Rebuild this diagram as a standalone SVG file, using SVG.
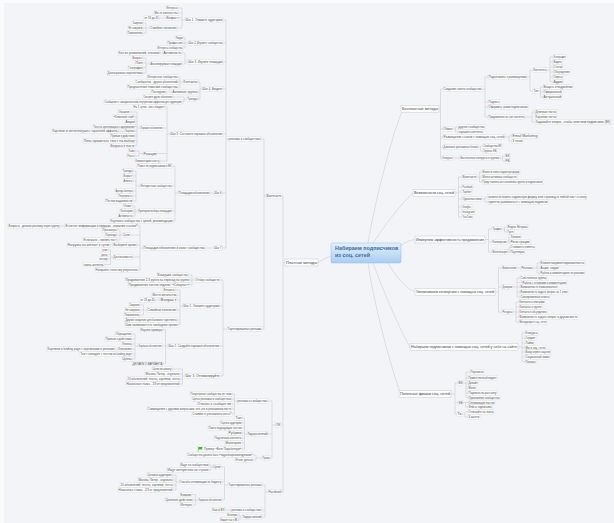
<svg xmlns="http://www.w3.org/2000/svg" width="614" height="523" viewBox="0 0 614 523">
<defs>
<linearGradient id="cg" x1="0" y1="0" x2="0" y2="1"><stop offset="0" stop-color="#e4f0fc"/><stop offset="1" stop-color="#a9cdf2"/></linearGradient>
<style>
.n rect{fill:#fcfcfd;stroke:#d4d7de;stroke-width:.35}
.n text{font-family:"Liberation Sans",Arial,sans-serif;font-size:3px;fill:#505050}
.m rect{fill:#fdfdfe;stroke:#bfc4cd;stroke-width:.45}
.m text{font-family:"Liberation Sans",Arial,sans-serif;font-size:3.8px;fill:#444}
#connectors path{fill:none;stroke:#c3c7cf;stroke-width:.5}
</style>
</defs>
<rect x="0" y="0" width="614" height="523" fill="#fafbfc"/>
<rect x="4" y="3" width="610" height="520" fill="#f3f4f8"/>
<g id="connectors">
<path d="M368,243 C375,200 395,125 402,112 M373,243 C385,225 400,205 413,193 M401,246 C405,242 410,240 415,239.5 M388,263 C395,275 405,288 415,292 M373,263 C385,295 400,330 410,347 M368,263 C375,310 392,370 400,392 M331,256 C325,258 321,261 318,262.5"/>
<path d="M285,262.5H283 M283,196V492 M282,196H283 M281,425H283 M282,492H283 M266,196H264 M264,139V329 M261,139H264 M262,329H264"/>
<path d="M228,139H226 M226,20V248 M223,20H226 M223,43H226 M223,62H226 M223,89H226 M223,134H226 M222,193H226 M222,248H226"/>
<path d="M185,20H182 M182,8V28 M178,8H182 M178,13H182 M179,18H182 M177,28H182 M166,18H159 M150,28H146 M146,23V33 M143,23H146 M143,28H146 M143,33H146"/>
<path d="M188,43H185 M185,38V48 M183,38H185 M183,43H185 M183,48H185 M188,62H185 M185,53V64 M182,53H185 M182,64H185 M163,53H160 M150,64H146 M146,58V73 M143,58H146 M143,63H146 M143,68H146 M143,73H146"/>
<path d="M202,89H200 M200,82V99 M198,82H200 M198,92H200 M198,99H200 M183,82H180 M180,77V87 M178,77H180 M178,82H180 M178,87H180 M172,92H166 M187,99H184 M184,97V102 M173,97H184 M182,102H184"/>
<path d="M170,134H167 M167,107V161 M165,107H167 M163,128H167 M157,153.5H167 M160,161H167 M140,128H137 M137,112V145.6 M130,112H137 M135,117H137 M135,122H137 M135,126.5H137 M135,131.2H137 M135,136H137 M135,140.8H137 M135,145.6H137 M125,131.2H118 M143,153.5H139 M139,151V156 M135,151H139 M135,156H139"/>
<path d="M214,193H210 M178,193H175 M175,166V221 M172,166H175 M172,186H175 M172,211H175 M173,221H175 M140,186H136 M136,171V201 M133,171H136 M133,176H136 M133,181H136 M133,191H136 M133,196H136 M133,201H136 M138,211H135 M135,206V216 M132,206H135 M133,211H135 M133,216H135"/>
<path d="M214,248H205 M143,248H140 M140,226V270 M138,226H140 M130,235H140 M137,245H140 M133,257H140 M138,270H140 M65,226H60 M123,235H120 M120,230V240 M117,230H120 M117,235H120 M117,240H120 M113,245H110 M113,257H110.5 M110.5,250V264.5 M108,250H110.5 M108,254.5H110.5 M108,259H110.5 M104,264.5H110.5"/>
<path d="M227,329H223 M223,280V376 M220,280H223 M220,306H223 M220,346H223 M220,376H223 M195,280H192 M192,275V285 M188,275H192 M190,280H192 M190,285H192 M183,306H180 M180,290V325 M175,290H180 M177,295H180 M177,300H180 M177,310H180 M177,320H180 M178,325H180 M160,300H155 M147,310H143.5 M143.5,305V315 M140,305H143.5 M140,310H143.5 M140,315H143.5"/>
<path d="M168,346H165.5 M165.5,329.5V363.5 M163,329.5H165.5 M162,346H165.5 M163,363.5H165.5 M138,346H135 M135,334V359 M132,334H135 M132,339H135 M132,344H135 M132,349H135 M132,354H135 M132,359H135 M118,349H115 M185,376H182.5 M182.5,369V384 M172,369H182.5 M180,374H182.5 M180,379H182.5 M180,384H182.5"/>
<path d="M275,425H272 M272,401V458 M268,401H272 M268,434H272 M270,458H272 M237,401H234.5 M234.5,394V414 M232,394H234.5 M232,399H234.5 M232,404H234.5 M232,409H234.5 M232,414H234.5 M247,434H244.5 M244.5,418V449 M242,418H244.5 M242,423H244.5 M242,428H244.5 M242,433H244.5 M242,438H244.5 M242,443H244.5 M242,449H244.5 M262,458H256 M256,455V460 M253,455H256 M253,460H256"/>
<path d="M268,492H265 M265,485V517 M262,485H265 M262,510H265 M262,517H265 M228,485H224.5 M224.5,467V500 M221,467H224.5 M222,482H224.5 M222,500H224.5 M213,467H211 M211,465V470 M209,465H211 M209,470H211 M179,482H176 M176,475V490 M172,475H176 M173,480H176 M173,485H176 M173,490H176 M198,500H195.5 M195.5,494.5V505 M192,494.5H195.5 M193,500H195.5 M193,505H195.5 M231,510H225 M242,517H240 M240,515V520 M238,515H240 M238,520H240"/>
<path d="M439,109H440.5 M440.5,89V158 M440.5,89H443 M440.5,129H443 M440.5,137H443 M440.5,147H443 M440.5,158H442 M482,89H485 M485,77V117 M485,77H488 M485,102H488 M485,107H488 M485,117H488 M527,77H530 M530,70V91 M530,70H533 M530,91H533 M547,70H550 M550,57V82 M550,57H553 M550,62H553 M550,67H553 M550,72H553 M550,77H553 M550,82H553 M539,91H540.5 M540.5,87V97 M540.5,87H543 M540.5,92H543 M540.5,97H543 M525,117H532 M532,112V122 M532,112H535 M532,122H535"/>
<path d="M453,129H455.5 M455.5,127V132 M455.5,127H458 M455.5,132H458 M505,137H509 M509,136V141 M509,136H512 M509,141H512 M478,147H480.5 M480.5,146V151 M480.5,146H483 M480.5,151H483 M453,158H460 M500,158H502.5 M502.5,156V161 M502.5,156H505 M502.5,161H505"/>
<path d="M455,193H458.5 M458.5,177V217 M458.5,177H462 M458.5,187H462 M458.5,192H462 M458.5,199H462 M458.5,207H462 M458.5,212H462 M458.5,217H462 M477,177H479.5 M479.5,172V182 M479.5,172H482 M479.5,177H482 M479.5,182H482 M482,199H485 M485,197V202 M485,197H488 M485,202H488"/>
<path d="M485,239.5H488.5 M488.5,229V252 M488.5,229H492 M488.5,242H492 M488.5,252H492 M502,229H504.5 M504.5,227V232 M504.5,227H507 M504.5,232H507 M507,242H510 M508.5,237V242 M508.5,237H510 M508,252H510 M509,247V252 M509,247H510"/>
<path d="M495,292H498.5 M498.5,268V312 M498.5,268H502 M498.5,287H502 M498.5,312H502 M517,268H521 M533,268H540 M537,263V273 M537,263H540 M537,273H540 M513,287H520 M517,278V297 M517,278H520 M517,282.5H522 M517,292H520 M517,297H520 M513,312H519 M516,302V322 M516,302H519 M516,307H519 M516,317H519 M516,322H519"/>
<path d="M518,347H522 M522,333V361.5 M522,333H525 M522,338H525 M522,343H525 M522,347.5H525 M522,352H525 M522,357H525 M522,361.5H525"/>
<path d="M451,394H455 M455,383V414 M455,383H458 M455,402.5H458 M455,414H457 M463,383H468 M466,372V397.5 M466,372H470 M466,378H468 M466,388H468 M466,393H468 M466,397.5H468 M463,402.5H468 M465.5,402.5V407 M465.5,407H468 M462,414H465 M465,412V417 M465,412H468 M465,417H468"/>
</g>
<g id="center"><rect x="331" y="243" width="70" height="20" rx="1.5" fill="url(#cg)" stroke="#94bbe6" stroke-width=".5"/><text x="335" y="250" font-family="Liberation Sans,Arial,sans-serif" font-size="5.4" font-weight="bold" fill="#456a98">Набираем подписчиков</text><text x="335" y="257" font-family="Liberation Sans,Arial,sans-serif" font-size="5.4" font-weight="bold" fill="#456a98">из соц. сетей</text></g>
<g id="p0" class="m"><rect x="285" y="259" width="33" height="7"/><text x="286" y="263.8" textLength="31" lengthAdjust="spacingAndGlyphs">Платные методы</text></g>
<g id="r1" class="m"><rect x="401" y="105.5" width="38" height="7"/><text x="402" y="110.3" textLength="36" lengthAdjust="spacingAndGlyphs">Бесплатные методы</text></g>
<g id="r2" class="m"><rect x="413" y="189.5" width="42" height="7"/><text x="414" y="194.3" textLength="40" lengthAdjust="spacingAndGlyphs">Возможности соц. сетей</text></g>
<g id="r3" class="m"><rect x="415" y="236" width="70" height="7"/><text x="416" y="240.8" textLength="68" lengthAdjust="spacingAndGlyphs">Измеряем эффективность продвижения</text></g>
<g id="r4" class="m"><rect x="415" y="288.5" width="80" height="7"/><text x="416" y="293.3" textLength="78" lengthAdjust="spacingAndGlyphs">Увеличиваем конверсию с помощью соц. сетей</text></g>
<g id="r5" class="m"><rect x="410" y="343.5" width="108" height="7"/><text x="411" y="348.3" textLength="106" lengthAdjust="spacingAndGlyphs">Набираем подписчиков с помощью соц. сетей у себя на сайте</text></g>
<g id="r6" class="m"><rect x="399" y="390.5" width="52" height="7"/><text x="400" y="395.3" textLength="50" lengthAdjust="spacingAndGlyphs">Полезные фишки соц. сетей</text></g>
<g id="v1" class="n"><rect x="266" y="193.8" width="16" height="4.4"/><text x="266.6" y="197.05" textLength="14.8" lengthAdjust="spacingAndGlyphs">Вконтакте</text></g>
<g id="o1" class="n"><rect x="275" y="422.8" width="6" height="4.4"/><text x="275.6" y="426.05" textLength="4.8" lengthAdjust="spacingAndGlyphs">ОК</text></g>
<g id="f1" class="n"><rect x="268" y="489.8" width="14" height="4.4"/><text x="268.6" y="493.05" textLength="12.8" lengthAdjust="spacingAndGlyphs">Facebook</text></g>
<g id="v_rs" class="n"><rect x="228" y="136.8" width="33" height="4.4"/><text x="228.6" y="140.05" textLength="31.8" lengthAdjust="spacingAndGlyphs">реклама в сообществах</text></g>
<g id="v_tr" class="n"><rect x="227" y="326.8" width="35" height="4.4"/><text x="227.6" y="330.05" textLength="33.8" lengthAdjust="spacingAndGlyphs">Таргетированная реклама</text></g>
<g id="s1" class="n"><rect x="185" y="17.8" width="38" height="4.4"/><text x="185.6" y="21.05" textLength="36.8" lengthAdjust="spacingAndGlyphs">Шаг 1. Опишите аудиторию</text></g>
<g id="s1a" class="n"><rect x="166" y="5.8" width="12" height="4.4"/><text x="166.6" y="9.05" textLength="10.8" lengthAdjust="spacingAndGlyphs">Интересы</text></g>
<g id="s1b" class="n"><rect x="154" y="10.8" width="24" height="4.4"/><text x="154.6" y="14.05" textLength="22.8" lengthAdjust="spacingAndGlyphs">Место жительства</text></g>
<g id="s1c" class="n"><rect x="166" y="15.8" width="13" height="4.4"/><text x="166.6" y="19.05" textLength="11.8" lengthAdjust="spacingAndGlyphs">Возраст</text></g>
<g id="s1c1" class="n"><rect x="144" y="15.8" width="15" height="4.4"/><text x="144.6" y="19.05" textLength="13.8" lengthAdjust="spacingAndGlyphs">от 18 до 45</text></g>
<g id="s1d" class="n"><rect x="150" y="25.8" width="27" height="4.4"/><text x="150.6" y="29.05" textLength="25.8" lengthAdjust="spacingAndGlyphs">Семейное положение</text></g>
<g id="s1d1" class="n"><rect x="132" y="20.8" width="11" height="4.4"/><text x="132.6" y="24.05" textLength="9.8" lengthAdjust="spacingAndGlyphs">Замужем</text></g>
<g id="s1d2" class="n"><rect x="128" y="25.8" width="15" height="4.4"/><text x="128.6" y="29.05" textLength="13.8" lengthAdjust="spacingAndGlyphs">Не замужем</text></g>
<g id="s1d3" class="n"><rect x="127" y="30.8" width="16" height="4.4"/><text x="127.6" y="34.05" textLength="14.8" lengthAdjust="spacingAndGlyphs">Помолвлены</text></g>
<g id="s2" class="n"><rect x="188" y="40.8" width="35" height="4.4"/><text x="188.6" y="44.05" textLength="33.8" lengthAdjust="spacingAndGlyphs">Шаг 2. Изучите сообщества</text></g>
<g id="s2a" class="n"><rect x="175" y="35.8" width="8" height="4.4"/><text x="175.6" y="39.05" textLength="6.8" lengthAdjust="spacingAndGlyphs">Люди</text></g>
<g id="s2b" class="n"><rect x="167" y="40.8" width="16" height="4.4"/><text x="167.6" y="44.05" textLength="14.8" lengthAdjust="spacingAndGlyphs">Профессия</text></g>
<g id="s2c" class="n"><rect x="157" y="45.8" width="26" height="4.4"/><text x="157.6" y="49.05" textLength="24.8" lengthAdjust="spacingAndGlyphs">Интересы сообщества</text></g>
<g id="s3" class="n"><rect x="188" y="59.8" width="35" height="4.4"/><text x="188.6" y="63.05" textLength="33.8" lengthAdjust="spacingAndGlyphs">Шаг 3. Изучите площадки</text></g>
<g id="s3a" class="n"><rect x="163" y="50.8" width="19" height="4.4"/><text x="163.6" y="54.05" textLength="17.8" lengthAdjust="spacingAndGlyphs">Активность</text></g>
<g id="s3a1" class="n"><rect x="118" y="50.8" width="42" height="4.4"/><text x="118.6" y="54.05" textLength="40.8" lengthAdjust="spacingAndGlyphs">Кол-во упоминаний, отзывов</text></g>
<g id="s3b" class="n"><rect x="150" y="61.8" width="32" height="4.4"/><text x="150.6" y="65.05" textLength="30.8" lengthAdjust="spacingAndGlyphs">Анализируемые площадки</text></g>
<g id="s3b1" class="n"><rect x="132" y="55.8" width="11" height="4.4"/><text x="132.6" y="59.05" textLength="9.8" lengthAdjust="spacingAndGlyphs">Возраст</text></g>
<g id="s3b2" class="n"><rect x="135" y="60.8" width="8" height="4.4"/><text x="135.6" y="64.05" textLength="6.8" lengthAdjust="spacingAndGlyphs">Пол</text></g>
<g id="s3b3" class="n"><rect x="128" y="65.8" width="15" height="4.4"/><text x="128.6" y="69.05" textLength="13.8" lengthAdjust="spacingAndGlyphs">География</text></g>
<g id="s3b4" class="n"><rect x="107" y="70.8" width="36" height="4.4"/><text x="107.6" y="74.05" textLength="34.8" lengthAdjust="spacingAndGlyphs">Долгосрочные перспективы</text></g>
<g id="s4" class="n"><rect x="202" y="86.8" width="21" height="4.4"/><text x="202.6" y="90.05" textLength="19.8" lengthAdjust="spacingAndGlyphs">Шаг 4. Бюджет</text></g>
<g id="s4a" class="n"><rect x="183" y="79.8" width="15" height="4.4"/><text x="183.6" y="83.05" textLength="13.8" lengthAdjust="spacingAndGlyphs">Контакты</text></g>
<g id="s4a1" class="n"><rect x="147" y="74.8" width="31" height="4.4"/><text x="147.6" y="78.05" textLength="29.8" lengthAdjust="spacingAndGlyphs">Интересные сообщества</text></g>
<g id="s4a2" class="n"><rect x="135" y="79.8" width="43" height="4.4"/><text x="135.6" y="83.05" textLength="41.8" lengthAdjust="spacingAndGlyphs">Сообщества - друзья объявлений</text></g>
<g id="s4a3" class="n"><rect x="127" y="84.8" width="51" height="4.4"/><text x="127.6" y="88.05" textLength="49.8" lengthAdjust="spacingAndGlyphs">Предпочтения тематики сообщества</text></g>
<g id="s4b" class="n"><rect x="172" y="89.8" width="26" height="4.4"/><text x="172.6" y="93.05" textLength="24.8" lengthAdjust="spacingAndGlyphs">Активные группы</text></g>
<g id="s4b1" class="n"><rect x="151" y="89.8" width="15" height="4.4"/><text x="151.6" y="93.05" textLength="13.8" lengthAdjust="spacingAndGlyphs">Последние</text></g>
<g id="s4c" class="n"><rect x="187" y="96.8" width="11" height="4.4"/><text x="187.6" y="100.05" textLength="9.8" lengthAdjust="spacingAndGlyphs">Тренды</text></g>
<g id="s4c1" class="n"><rect x="143" y="94.8" width="30" height="4.4"/><text x="143.6" y="98.05" textLength="28.8" lengthAdjust="spacingAndGlyphs">Смотрите другие объявления</text></g>
<g id="s4c2" class="n"><rect x="104" y="99.8" width="78" height="4.4"/><text x="104.6" y="103.05" textLength="76.8" lengthAdjust="spacingAndGlyphs">Сообщения с эмоциональным, внутренним эффектом для аудитории</text></g>
<g id="s5" class="n"><rect x="170" y="131.8" width="53" height="4.4"/><text x="170.6" y="135.05" textLength="51.8" lengthAdjust="spacingAndGlyphs">Шаг 5. Составьте хорошее объявление</text></g>
<g id="s5a" class="n"><rect x="133" y="104.8" width="32" height="4.4"/><text x="133.6" y="108.05" textLength="30.8" lengthAdjust="spacingAndGlyphs">На 1 сутки - весь бюджет</text></g>
<g id="s5b" class="n"><rect x="140" y="125.8" width="23" height="4.4"/><text x="140.6" y="129.05" textLength="21.8" lengthAdjust="spacingAndGlyphs">Хорошее объявление</text></g>
<g id="s5b1" class="n"><rect x="118" y="109.8" width="12" height="4.4"/><text x="118.6" y="113.05" textLength="10.8" lengthAdjust="spacingAndGlyphs">Обращение</text></g>
<g id="s5b2" class="n"><rect x="113" y="114.8" width="22" height="4.4"/><text x="113.6" y="118.05" textLength="20.8" lengthAdjust="spacingAndGlyphs">«Ключевой слой»</text></g>
<g id="s5b3" class="n"><rect x="125" y="119.8" width="10" height="4.4"/><text x="125.6" y="123.05" textLength="8.8" lengthAdjust="spacingAndGlyphs">Акции</text></g>
<g id="s5b4" class="n"><rect x="93" y="124.3" width="42" height="4.4"/><text x="93.6" y="127.55" textLength="40.8" lengthAdjust="spacingAndGlyphs">Тексты цепляющего содержания</text></g>
<g id="s5b5" class="n"><rect x="125" y="129" width="10" height="4.4"/><text x="125.6" y="132.25" textLength="8.8" lengthAdjust="spacingAndGlyphs">Картинка</text></g>
<g id="s5b5a" class="n"><rect x="52" y="129" width="66" height="4.4"/><text x="52.6" y="132.25" textLength="64.8" lengthAdjust="spacingAndGlyphs">Картинки от интеллектуала с гарантией эффекта</text></g>
<g id="s5b6" class="n"><rect x="110" y="133.8" width="25" height="4.4"/><text x="110.6" y="137.05" textLength="23.8" lengthAdjust="spacingAndGlyphs">Призыв к действию</text></g>
<g id="s5b7" class="n"><rect x="83" y="138.6" width="52" height="4.4"/><text x="83.6" y="141.85" textLength="50.8" lengthAdjust="spacingAndGlyphs">Лень прочитать текст на выбор</text></g>
<g id="s5b8" class="n"><rect x="110" y="143.4" width="25" height="4.4"/><text x="110.6" y="146.65" textLength="23.8" lengthAdjust="spacingAndGlyphs">Вопросы в тексте</text></g>
<g id="s5c" class="n"><rect x="143" y="151.3" width="14" height="4.4"/><text x="143.6" y="154.55" textLength="12.8" lengthAdjust="spacingAndGlyphs">Реакции</text></g>
<g id="s5c1" class="n"><rect x="128" y="148.8" width="7" height="4.4"/><text x="128.6" y="152.05" textLength="5.8" lengthAdjust="spacingAndGlyphs">Лайки</text></g>
<g id="s5c2" class="n"><rect x="127" y="153.8" width="8" height="4.4"/><text x="127.6" y="157.05" textLength="6.8" lengthAdjust="spacingAndGlyphs">Репосты</text></g>
<g id="s5d" class="n"><rect x="135" y="158.8" width="25" height="4.4"/><text x="135.6" y="162.05" textLength="23.8" lengthAdjust="spacingAndGlyphs">Комментарии к посту</text></g>
<g id="s6" class="n"><rect x="214" y="190.8" width="8" height="4.4"/><text x="214.6" y="194.05" textLength="6.8" lengthAdjust="spacingAndGlyphs">Шаг 6</text></g>
<g id="s6a" class="n"><rect x="178" y="190.8" width="32" height="4.4"/><text x="178.6" y="194.05" textLength="30.8" lengthAdjust="spacingAndGlyphs">Площадки объявления</text></g>
<g id="s6a1" class="n"><rect x="137" y="163.8" width="35" height="4.4"/><text x="137.6" y="167.05" textLength="33.8" lengthAdjust="spacingAndGlyphs">Поиск по подписчикам в ВК</text></g>
<g id="s6a2" class="n"><rect x="140" y="183.8" width="32" height="4.4"/><text x="140.6" y="187.05" textLength="30.8" lengthAdjust="spacingAndGlyphs">Интересные сообщества</text></g>
<g id="s6a2a" class="n"><rect x="122" y="168.8" width="11" height="4.4"/><text x="122.6" y="172.05" textLength="9.8" lengthAdjust="spacingAndGlyphs">Тренды</text></g>
<g id="s6a2b" class="n"><rect x="123" y="173.8" width="10" height="4.4"/><text x="123.6" y="177.05" textLength="8.8" lengthAdjust="spacingAndGlyphs">Возраст</text></g>
<g id="s6a2c" class="n"><rect x="123" y="178.8" width="10" height="4.4"/><text x="123.6" y="182.05" textLength="8.8" lengthAdjust="spacingAndGlyphs">Анонсы</text></g>
<g id="s6a2d" class="n"><rect x="115" y="188.8" width="18" height="4.4"/><text x="115.6" y="192.05" textLength="16.8" lengthAdjust="spacingAndGlyphs">Аренда баннера</text></g>
<g id="s6a2e" class="n"><rect x="118" y="193.8" width="15" height="4.4"/><text x="118.6" y="197.05" textLength="13.8" lengthAdjust="spacingAndGlyphs">Популярность</text></g>
<g id="s6a2f" class="n"><rect x="105" y="198.8" width="28" height="4.4"/><text x="105.6" y="202.05" textLength="26.8" lengthAdjust="spacingAndGlyphs">По посещаемости</text></g>
<g id="s6a3" class="n"><rect x="138" y="208.8" width="34" height="4.4"/><text x="138.6" y="212.05" textLength="32.8" lengthAdjust="spacingAndGlyphs">Критерии выбора площадки</text></g>
<g id="s6a3a" class="n"><rect x="123" y="203.8" width="9" height="4.4"/><text x="123.6" y="207.05" textLength="7.8" lengthAdjust="spacingAndGlyphs">Охват</text></g>
<g id="s6a3b" class="n"><rect x="120" y="208.8" width="13" height="4.4"/><text x="120.6" y="212.05" textLength="11.8" lengthAdjust="spacingAndGlyphs">Категории</text></g>
<g id="s6a3c" class="n"><rect x="118" y="213.8" width="15" height="4.4"/><text x="118.6" y="217.05" textLength="13.8" lengthAdjust="spacingAndGlyphs">Активность</text></g>
<g id="s6a4" class="n"><rect x="110" y="218.8" width="63" height="4.4"/><text x="110.6" y="222.05" textLength="61.8" lengthAdjust="spacingAndGlyphs">Карточка сообщества с ценой, рекомендации</text></g>
<g id="s7" class="n"><rect x="214" y="245.8" width="8" height="4.4"/><text x="214.6" y="249.05" textLength="6.8" lengthAdjust="spacingAndGlyphs">Шаг 7</text></g>
<g id="s7a" class="n"><rect x="143" y="245.8" width="62" height="4.4"/><text x="143.6" y="249.05" textLength="60.8" lengthAdjust="spacingAndGlyphs">Площадки обновления и охват сообщества</text></g>
<g id="s7a1" class="n"><rect x="65" y="223.8" width="73" height="4.4"/><text x="65.6" y="227.05" textLength="71.8" lengthAdjust="spacingAndGlyphs">Если нет информации о продаже - внешние ссылки?</text></g>
<g id="s7a1a" class="n"><rect x="8" y="223.8" width="52" height="4.4"/><text x="8.6" y="227.05" textLength="50.8" lengthAdjust="spacingAndGlyphs">Вопросы - делаем рекламу через группу</text></g>
<g id="s7a2" class="n"><rect x="123" y="232.8" width="7" height="4.4"/><text x="123.6" y="236.05" textLength="5.8" lengthAdjust="spacingAndGlyphs">Цели</text></g>
<g id="s7a2a" class="n"><rect x="102" y="227.8" width="15" height="4.4"/><text x="102.6" y="231.05" textLength="13.8" lengthAdjust="spacingAndGlyphs">Просмотры</text></g>
<g id="s7a2b" class="n"><rect x="105" y="232.8" width="12" height="4.4"/><text x="105.6" y="236.05" textLength="10.8" lengthAdjust="spacingAndGlyphs">Переходы</text></g>
<g id="s7a2c" class="n"><rect x="83" y="237.8" width="34" height="4.4"/><text x="83.6" y="241.05" textLength="32.8" lengthAdjust="spacingAndGlyphs">Если мало - сменить пост</text></g>
<g id="s7a3" class="n"><rect x="113" y="242.8" width="24" height="4.4"/><text x="113.6" y="246.05" textLength="22.8" lengthAdjust="spacingAndGlyphs">Выберите время</text></g>
<g id="s7a3a" class="n"><rect x="67" y="242.8" width="43" height="4.4"/><text x="67.6" y="246.05" textLength="41.8" lengthAdjust="spacingAndGlyphs">Нагрузка на контакт в сутки</text></g>
<g id="s7a4" class="n"><rect x="113" y="254.8" width="20" height="4.4"/><text x="113.6" y="258.05" textLength="18.8" lengthAdjust="spacingAndGlyphs">Достигаемость</text></g>
<g id="s7a4a" class="n"><rect x="102" y="247.8" width="6" height="4.4"/><text x="102.6" y="251.05" textLength="4.8" lengthAdjust="spacingAndGlyphs">утро</text></g>
<g id="s7a4b" class="n"><rect x="101" y="252.3" width="7" height="4.4"/><text x="101.6" y="255.55" textLength="5.8" lengthAdjust="spacingAndGlyphs">день</text></g>
<g id="s7a4c" class="n"><rect x="99" y="256.8" width="9" height="4.4"/><text x="99.6" y="260.05" textLength="7.8" lengthAdjust="spacingAndGlyphs">вечер</text></g>
<g id="s7a4d" class="n"><rect x="83" y="262.3" width="21" height="4.4"/><text x="83.6" y="265.55" textLength="19.8" lengthAdjust="spacingAndGlyphs">смена контента</text></g>
<g id="s7a5" class="n"><rect x="95" y="267.8" width="43" height="4.4"/><text x="95.6" y="271.05" textLength="41.8" lengthAdjust="spacingAndGlyphs">Набирайте статистику результатов</text></g>
<g id="t1" class="n"><rect x="195" y="277.8" width="25" height="4.4"/><text x="195.6" y="281.05" textLength="23.8" lengthAdjust="spacingAndGlyphs">Отбор сообществ</text></g>
<g id="t1a" class="n"><rect x="157" y="272.8" width="31" height="4.4"/><text x="157.6" y="276.05" textLength="29.8" lengthAdjust="spacingAndGlyphs">Вошедшие сообщества</text></g>
<g id="t1b" class="n"><rect x="125" y="277.8" width="65" height="4.4"/><text x="125.6" y="281.05" textLength="63.8" lengthAdjust="spacingAndGlyphs">Продвижение 2-3 рубля за переход по группе</text></g>
<g id="t1c" class="n"><rect x="128" y="282.8" width="62" height="4.4"/><text x="128.6" y="286.05" textLength="60.8" lengthAdjust="spacingAndGlyphs">Продвижение постов недели / «Спецпост»</text></g>
<g id="t2" class="n"><rect x="183" y="303.8" width="37" height="4.4"/><text x="183.6" y="307.05" textLength="35.8" lengthAdjust="spacingAndGlyphs">Шаг 1. Опишите аудиторию</text></g>
<g id="t2a" class="n"><rect x="163" y="287.8" width="12" height="4.4"/><text x="163.6" y="291.05" textLength="10.8" lengthAdjust="spacingAndGlyphs">Интересы</text></g>
<g id="t2b" class="n"><rect x="152" y="292.8" width="25" height="4.4"/><text x="152.6" y="296.05" textLength="23.8" lengthAdjust="spacingAndGlyphs">Место жительства</text></g>
<g id="t2c" class="n"><rect x="160" y="297.8" width="17" height="4.4"/><text x="160.6" y="301.05" textLength="15.8" lengthAdjust="spacingAndGlyphs">Возраст</text></g>
<g id="t2c1" class="n"><rect x="140" y="297.8" width="15" height="4.4"/><text x="140.6" y="301.05" textLength="13.8" lengthAdjust="spacingAndGlyphs">от 18 до 45</text></g>
<g id="t2d" class="n"><rect x="147" y="307.8" width="30" height="4.4"/><text x="147.6" y="311.05" textLength="28.8" lengthAdjust="spacingAndGlyphs">Семейное положение</text></g>
<g id="t2d1" class="n"><rect x="129" y="302.8" width="11" height="4.4"/><text x="129.6" y="306.05" textLength="9.8" lengthAdjust="spacingAndGlyphs">Замужем</text></g>
<g id="t2d2" class="n"><rect x="125" y="307.8" width="15" height="4.4"/><text x="125.6" y="311.05" textLength="13.8" lengthAdjust="spacingAndGlyphs">Не замужем</text></g>
<g id="t2d3" class="n"><rect x="124" y="312.8" width="16" height="4.4"/><text x="124.6" y="316.05" textLength="14.8" lengthAdjust="spacingAndGlyphs">Помолвлены</text></g>
<g id="t2e" class="n"><rect x="125" y="317.8" width="52" height="4.4"/><text x="125.6" y="321.05" textLength="50.8" lengthAdjust="spacingAndGlyphs">Другие сведения для базового таргетинга</text></g>
<g id="t2f" class="n"><rect x="125" y="322.8" width="53" height="4.4"/><text x="125.6" y="326.05" textLength="51.8" lengthAdjust="spacingAndGlyphs">Чем занимаются в свободное время</text></g>
<g id="t3" class="n"><rect x="168" y="343.8" width="52" height="4.4"/><text x="168.6" y="347.05" textLength="50.8" lengthAdjust="spacingAndGlyphs">Шаг 2. Создайте хорошее объявление</text></g>
<g id="t3a" class="n"><rect x="140" y="327.3" width="23" height="4.4"/><text x="140.6" y="330.55" textLength="21.8" lengthAdjust="spacingAndGlyphs">Изучите примеры</text></g>
<g id="t3b" class="n"><rect x="138" y="343.8" width="24" height="4.4"/><text x="138.6" y="347.05" textLength="22.8" lengthAdjust="spacingAndGlyphs">Хорошее объявление</text></g>
<g id="t3b1" class="n"><rect x="115" y="331.8" width="17" height="4.4"/><text x="115.6" y="335.05" textLength="15.8" lengthAdjust="spacingAndGlyphs">Обращение</text></g>
<g id="t3b2" class="n"><rect x="105" y="336.8" width="27" height="4.4"/><text x="105.6" y="340.05" textLength="25.8" lengthAdjust="spacingAndGlyphs">Призыв к действию</text></g>
<g id="t3b3" class="n"><rect x="122" y="341.8" width="10" height="4.4"/><text x="122.6" y="345.05" textLength="8.8" lengthAdjust="spacingAndGlyphs">Кнопка</text></g>
<g id="t3b4" class="n"><rect x="118" y="346.8" width="14" height="4.4"/><text x="118.6" y="350.05" textLength="12.8" lengthAdjust="spacingAndGlyphs">Ключевики</text></g>
<g id="t3b4a" class="n"><rect x="47" y="346.8" width="68" height="4.4"/><text x="47.6" y="350.05" textLength="66.8" lengthAdjust="spacingAndGlyphs">Картинки в landing page с картинками в рекламе</text></g>
<g id="t3b5" class="n"><rect x="80" y="351.8" width="52" height="4.4"/><text x="80.6" y="355.05" textLength="50.8" lengthAdjust="spacingAndGlyphs">Текст совпадает с текстом на landing page</text></g>
<g id="t3b6" class="n"><rect x="122" y="356.8" width="10" height="4.4"/><text x="122.6" y="360.05" textLength="8.8" lengthAdjust="spacingAndGlyphs">Цены</text></g>
<g id="t3c" class="n"><rect x="132" y="361.3" width="31" height="4.4"/><text x="132.6" y="364.55" textLength="29.8" lengthAdjust="spacingAndGlyphs">ДЕЛАЕМ 3 ВАРИАНТА</text></g>
<g id="t4" class="n"><rect x="185" y="373.8" width="35" height="4.4"/><text x="185.6" y="377.05" textLength="33.8" lengthAdjust="spacingAndGlyphs">Шаг 3. Оптимизируйте</text></g>
<g id="t4a" class="n"><rect x="152" y="366.8" width="20" height="4.4"/><text x="152.6" y="370.05" textLength="18.8" lengthAdjust="spacingAndGlyphs">Цели по охвату</text></g>
<g id="t4b" class="n"><rect x="145" y="371.8" width="35" height="4.4"/><text x="145.6" y="375.05" textLength="33.8" lengthAdjust="spacingAndGlyphs">Москва, Питер - отдельно</text></g>
<g id="t4c" class="n"><rect x="127" y="376.8" width="53" height="4.4"/><text x="127.6" y="380.05" textLength="51.8" lengthAdjust="spacingAndGlyphs">20 объявлений: тексты, картинки, тесты</text></g>
<g id="t4d" class="n"><rect x="126" y="381.8" width="54" height="4.4"/><text x="126.6" y="385.05" textLength="52.8" lengthAdjust="spacingAndGlyphs">Начальная ставка - 2/3 от предложенной</text></g>
<g id="o1a" class="n"><rect x="237" y="398.8" width="31" height="4.4"/><text x="237.6" y="402.05" textLength="29.8" lengthAdjust="spacingAndGlyphs">реклама в сообществах</text></g>
<g id="o1a1" class="n"><rect x="190" y="391.8" width="42" height="4.4"/><text x="190.6" y="395.05" textLength="40.8" lengthAdjust="spacingAndGlyphs">Популярные сообщества по теме</text></g>
<g id="o1a2" class="n"><rect x="192" y="396.8" width="40" height="4.4"/><text x="192.6" y="400.05" textLength="38.8" lengthAdjust="spacingAndGlyphs">Цены рекламы в сообществах</text></g>
<g id="o1a3" class="n"><rect x="197" y="401.8" width="35" height="4.4"/><text x="197.6" y="405.05" textLength="33.8" lengthAdjust="spacingAndGlyphs">Отзывы о сообществе</text></g>
<g id="o1a4" class="n"><rect x="147" y="406.8" width="85" height="4.4"/><text x="147.6" y="410.05" textLength="83.8" lengthAdjust="spacingAndGlyphs">Совмещение с другими вопросами: всё это в рекламном посте</text></g>
<g id="o1a5" class="n"><rect x="192" y="411.8" width="40" height="4.4"/><text x="192.6" y="415.05" textLength="38.8" lengthAdjust="spacingAndGlyphs">Стоимость рекламного поста?</text></g>
<g id="o1b" class="n"><rect x="247" y="431.8" width="21" height="4.4"/><text x="247.6" y="435.05" textLength="19.8" lengthAdjust="spacingAndGlyphs">Лидеры мнений</text></g>
<g id="o1b1" class="n"><rect x="235" y="415.8" width="7" height="4.4"/><text x="235.6" y="419.05" textLength="5.8" lengthAdjust="spacingAndGlyphs">Топ</text></g>
<g id="o1b2" class="n"><rect x="220" y="420.8" width="22" height="4.4"/><text x="220.6" y="424.05" textLength="20.8" lengthAdjust="spacingAndGlyphs">Оценка аудитории</text></g>
<g id="o1b3" class="n"><rect x="208" y="425.8" width="34" height="4.4"/><text x="208.6" y="429.05" textLength="32.8" lengthAdjust="spacingAndGlyphs">Поиск подходящих постов</text></g>
<g id="o1b4" class="n"><rect x="228" y="430.8" width="14" height="4.4"/><text x="228.6" y="434.05" textLength="12.8" lengthAdjust="spacingAndGlyphs">Рубрики</text></g>
<g id="o1b5" class="n"><rect x="214" y="435.8" width="28" height="4.4"/><text x="214.6" y="439.05" textLength="26.8" lengthAdjust="spacingAndGlyphs">Подготовка контента</text></g>
<g id="o1b6" class="n"><rect x="225" y="440.8" width="17" height="4.4"/><text x="225.6" y="444.05" textLength="15.8" lengthAdjust="spacingAndGlyphs">Мониторинг</text></g>
<g id="o1b7" class="n"><rect x="197" y="446.3" width="45" height="5.4"/><line x1="198.3" y1="446.8" x2="198.3" y2="451.4" stroke="#3d7a2a" stroke-width=".45"/><path d="M198.5,446.9 H202.8 L201.9,448.2 L202.8,449.5 H198.5 Z" fill="#4dae3c"/><text x="204" y="450.05" textLength="37.4" lengthAdjust="spacingAndGlyphs">Пример: «Блог Парабеллум»</text></g>
<g id="o1c" class="n"><rect x="262" y="455.8" width="8" height="4.4"/><text x="262.6" y="459.05" textLength="6.8" lengthAdjust="spacingAndGlyphs">Промо</text></g>
<g id="o1c1" class="n"><rect x="187" y="452.8" width="66" height="4.4"/><text x="187.6" y="456.05" textLength="64.8" lengthAdjust="spacingAndGlyphs">Сообщество должно быть «подробнорекомендуемым»</text></g>
<g id="o1c2" class="n"><rect x="235" y="457.8" width="18" height="4.4"/><text x="235.6" y="461.05" textLength="16.8" lengthAdjust="spacingAndGlyphs">Итоги, деньги</text></g>
<g id="f1a" class="n"><rect x="228" y="482.8" width="34" height="4.4"/><text x="228.6" y="486.05" textLength="32.8" lengthAdjust="spacingAndGlyphs">Таргетированная реклама</text></g>
<g id="f1a1" class="n"><rect x="213" y="464.8" width="8" height="4.4"/><text x="213.6" y="468.05" textLength="6.8" lengthAdjust="spacingAndGlyphs">Цели</text></g>
<g id="f1a1a" class="n"><rect x="180" y="462.8" width="29" height="4.4"/><text x="180.6" y="466.05" textLength="27.8" lengthAdjust="spacingAndGlyphs">Ищут по сообществам</text></g>
<g id="f1a1b" class="n"><rect x="167" y="467.8" width="42" height="4.4"/><text x="167.6" y="471.05" textLength="40.8" lengthAdjust="spacingAndGlyphs">Ищут интересное по стране</text></g>
<g id="f1a2" class="n"><rect x="179" y="479.8" width="43" height="4.4"/><text x="179.6" y="483.05" textLength="41.8" lengthAdjust="spacingAndGlyphs">Способы оптимизации по бюджету</text></g>
<g id="f1a2a" class="n"><rect x="147" y="472.8" width="25" height="4.4"/><text x="147.6" y="476.05" textLength="23.8" lengthAdjust="spacingAndGlyphs">Целевая аудитория</text></g>
<g id="f1a2b" class="n"><rect x="138" y="477.8" width="35" height="4.4"/><text x="138.6" y="481.05" textLength="33.8" lengthAdjust="spacingAndGlyphs">Москва, Питер - отдельно</text></g>
<g id="f1a2c" class="n"><rect x="120" y="482.8" width="53" height="4.4"/><text x="120.6" y="486.05" textLength="51.8" lengthAdjust="spacingAndGlyphs">20 объявлений: тексты, картинки, тесты</text></g>
<g id="f1a2d" class="n"><rect x="118" y="487.8" width="55" height="4.4"/><text x="118.6" y="491.05" textLength="53.8" lengthAdjust="spacingAndGlyphs">Начальная ставка - 2/3 от предложенной</text></g>
<g id="f1a3" class="n"><rect x="198" y="497.8" width="24" height="4.4"/><text x="198.6" y="501.05" textLength="22.8" lengthAdjust="spacingAndGlyphs">Хорошее объявление</text></g>
<g id="f1a3a" class="n"><rect x="180" y="492.3" width="12" height="4.4"/><text x="180.6" y="495.55" textLength="10.8" lengthAdjust="spacingAndGlyphs">Внимание</text></g>
<g id="f1a3b" class="n"><rect x="165" y="497.8" width="28" height="4.4"/><text x="165.6" y="501.05" textLength="26.8" lengthAdjust="spacingAndGlyphs">Целевое действие</text></g>
<g id="f1a3c" class="n"><rect x="180" y="502.8" width="13" height="4.4"/><text x="180.6" y="506.05" textLength="11.8" lengthAdjust="spacingAndGlyphs">Интерес</text></g>
<g id="f1b" class="n"><rect x="231" y="507.8" width="31" height="4.4"/><text x="231.6" y="511.05" textLength="29.8" lengthAdjust="spacingAndGlyphs">реклама в сообществах</text></g>
<g id="f1b1" class="n"><rect x="212" y="507.8" width="13" height="4.4"/><text x="212.6" y="511.05" textLength="11.8" lengthAdjust="spacingAndGlyphs">Как в ВК</text></g>
<g id="f1c" class="n"><rect x="242" y="514.8" width="20" height="4.4"/><text x="242.6" y="518.05" textLength="18.8" lengthAdjust="spacingAndGlyphs">Лидеры мнений</text></g>
<g id="f1c1" class="n"><rect x="227" y="512.8" width="11" height="4.4"/><text x="227.6" y="516.05" textLength="9.8" lengthAdjust="spacingAndGlyphs">Блогеры</text></g>
<g id="f1c2" class="n"><rect x="220" y="517.8" width="18" height="4.4"/><text x="220.6" y="521.05" textLength="16.8" lengthAdjust="spacingAndGlyphs">Бюджет как в ВК</text></g>
<g id="r1a" class="n"><rect x="443" y="86.8" width="39" height="4.4"/><text x="443.6" y="90.05" textLength="37.8" lengthAdjust="spacingAndGlyphs">Создание своего сообщества</text></g>
<g id="r1a1" class="n"><rect x="488" y="74.8" width="39" height="4.4"/><text x="488.6" y="78.05" textLength="37.8" lengthAdjust="spacingAndGlyphs">Подготовить к размещению</text></g>
<g id="r1a1a" class="n"><rect x="533" y="67.8" width="14" height="4.4"/><text x="533.6" y="71.05" textLength="12.8" lengthAdjust="spacingAndGlyphs">Контента</text></g>
<g id="r1a1a1" class="n"><rect x="553" y="54.8" width="13" height="4.4"/><text x="553.6" y="58.05" textLength="11.8" lengthAdjust="spacingAndGlyphs">Фотографии</text></g>
<g id="r1a1a2" class="n"><rect x="553" y="59.8" width="9" height="4.4"/><text x="553.6" y="63.05" textLength="7.8" lengthAdjust="spacingAndGlyphs">Видео</text></g>
<g id="r1a1a3" class="n"><rect x="553" y="64.8" width="10" height="4.4"/><text x="553.6" y="68.05" textLength="8.8" lengthAdjust="spacingAndGlyphs">Статьи</text></g>
<g id="r1a1a4" class="n"><rect x="553" y="69.8" width="17" height="4.4"/><text x="553.6" y="73.05" textLength="15.8" lengthAdjust="spacingAndGlyphs">Обсуждения</text></g>
<g id="r1a1a5" class="n"><rect x="553" y="74.8" width="10" height="4.4"/><text x="553.6" y="78.05" textLength="8.8" lengthAdjust="spacingAndGlyphs">Опросы</text></g>
<g id="r1a1a6" class="n"><rect x="553" y="79.8" width="10" height="4.4"/><text x="553.6" y="83.05" textLength="8.8" lengthAdjust="spacingAndGlyphs">Аудио</text></g>
<g id="r1a1b" class="n"><rect x="533" y="88.8" width="6" height="4.4"/><text x="533.6" y="92.05" textLength="4.8" lengthAdjust="spacingAndGlyphs">Тон</text></g>
<g id="r1a1b1" class="n"><rect x="543" y="84.8" width="30" height="4.4"/><text x="543.6" y="88.05" textLength="28.8" lengthAdjust="spacingAndGlyphs">Вещать в подробном</text></g>
<g id="r1a1b2" class="n"><rect x="543" y="89.8" width="19" height="4.4"/><text x="543.6" y="93.05" textLength="17.8" lengthAdjust="spacingAndGlyphs">Официальный</text></g>
<g id="r1a1b3" class="n"><rect x="543" y="94.8" width="19" height="4.4"/><text x="543.6" y="98.05" textLength="17.8" lengthAdjust="spacingAndGlyphs">Актуальный</text></g>
<g id="r1a2" class="n"><rect x="488" y="99.8" width="12" height="4.4"/><text x="488.6" y="103.05" textLength="10.8" lengthAdjust="spacingAndGlyphs">Подпись</text></g>
<g id="r1a3" class="n"><rect x="488" y="104.8" width="40" height="4.4"/><text x="488.6" y="108.05" textLength="38.8" lengthAdjust="spacingAndGlyphs">Оформить своим подписчикам</text></g>
<g id="r1a4" class="n"><rect x="488" y="114.8" width="37" height="4.4"/><text x="488.6" y="118.05" textLength="35.8" lengthAdjust="spacingAndGlyphs">Продвижение за счет контента</text></g>
<g id="r1a4a" class="n"><rect x="535" y="109.8" width="22" height="4.4"/><text x="535.6" y="113.05" textLength="20.8" lengthAdjust="spacingAndGlyphs">Длинные посты</text></g>
<g id="r1a4b" class="n"><rect x="535" y="114.8" width="22" height="4.4"/><text x="535.6" y="118.05" textLength="20.8" lengthAdjust="spacingAndGlyphs">Короткие посты</text></g>
<g id="r1a4c" class="n"><rect x="535" y="119.8" width="76" height="4.4"/><text x="535.6" y="123.05" textLength="74.8" lengthAdjust="spacingAndGlyphs">Задавайте вопрос, чтобы ответили подписчики (ВК)</text></g>
<g id="r1b" class="n"><rect x="443" y="126.8" width="10" height="4.4"/><text x="443.6" y="130.05" textLength="8.8" lengthAdjust="spacingAndGlyphs">Обмен</text></g>
<g id="r1b1" class="n"><rect x="458" y="124.8" width="27" height="4.4"/><text x="458.6" y="128.05" textLength="25.8" lengthAdjust="spacingAndGlyphs">другие сообщества</text></g>
<g id="r1b2" class="n"><rect x="458" y="129.8" width="25" height="4.4"/><text x="458.6" y="133.05" textLength="23.8" lengthAdjust="spacingAndGlyphs">хорошего контента</text></g>
<g id="r1c" class="n"><rect x="443" y="134.8" width="62" height="4.4"/><text x="443.6" y="138.05" textLength="60.8" lengthAdjust="spacingAndGlyphs">Размещение ссылок с помощью соц. сетей</text></g>
<g id="r1c1" class="n"><rect x="512" y="133.8" width="26" height="4.4"/><text x="512.6" y="137.05" textLength="24.8" lengthAdjust="spacingAndGlyphs">Email Marketing</text></g>
<g id="r1c2" class="n"><rect x="512" y="138.8" width="11" height="4.4"/><text x="512.6" y="142.05" textLength="9.8" lengthAdjust="spacingAndGlyphs">3 точки</text></g>
<g id="r1d" class="n"><rect x="443" y="144.8" width="35" height="4.4"/><text x="443.6" y="148.05" textLength="33.8" lengthAdjust="spacingAndGlyphs">Дешевые рекламные блоки</text></g>
<g id="r1d1" class="n"><rect x="483" y="143.8" width="19" height="4.4"/><text x="483.6" y="147.05" textLength="17.8" lengthAdjust="spacingAndGlyphs">Сообщества ВК</text></g>
<g id="r1d2" class="n"><rect x="483" y="148.8" width="14" height="4.4"/><text x="483.6" y="152.05" textLength="12.8" lengthAdjust="spacingAndGlyphs">Группы ФБ</text></g>
<g id="r1e" class="n"><rect x="442" y="155.8" width="11" height="4.4"/><text x="442.6" y="159.05" textLength="9.8" lengthAdjust="spacingAndGlyphs">Конкурсы</text></g>
<g id="r1e1" class="n"><rect x="460" y="155.8" width="40" height="4.4"/><text x="460.6" y="159.05" textLength="38.8" lengthAdjust="spacingAndGlyphs">Бесплатные конкурсы в группах</text></g>
<g id="r1e1a" class="n"><rect x="505" y="153.8" width="5" height="4.4"/><text x="505.5" y="157.05" textLength="4" lengthAdjust="spacingAndGlyphs">ВК</text></g>
<g id="r1e1b" class="n"><rect x="505" y="158.8" width="5" height="4.4"/><text x="505.5" y="162.05" textLength="4" lengthAdjust="spacingAndGlyphs">FB</text></g>
<g id="r2a" class="n"><rect x="462" y="174.8" width="15" height="4.4"/><text x="462.6" y="178.05" textLength="13.8" lengthAdjust="spacingAndGlyphs">Вконтакте</text></g>
<g id="r2a1" class="n"><rect x="482" y="169.8" width="38" height="4.4"/><text x="482.6" y="173.05" textLength="36.8" lengthAdjust="spacingAndGlyphs">Можно вставить подписную форму</text></g>
<g id="r2a2" class="n"><rect x="482" y="174.8" width="35" height="4.4"/><text x="482.6" y="178.05" textLength="33.8" lengthAdjust="spacingAndGlyphs">Много активных сообществ</text></g>
<g id="r2a3" class="n"><rect x="482" y="179.8" width="61" height="4.4"/><text x="482.6" y="183.05" textLength="59.8" lengthAdjust="spacingAndGlyphs">Представлена вся аналитика группы и подписчиков</text></g>
<g id="r2b" class="n"><rect x="462" y="184.8" width="11" height="4.4"/><text x="462.6" y="188.05" textLength="9.8" lengthAdjust="spacingAndGlyphs">Facebook</text></g>
<g id="r2c" class="n"><rect x="462" y="189.8" width="10" height="4.4"/><text x="462.6" y="193.05" textLength="8.8" lengthAdjust="spacingAndGlyphs">Twitter</text></g>
<g id="r2d" class="n"><rect x="462" y="196.8" width="20" height="4.4"/><text x="462.6" y="200.05" textLength="18.8" lengthAdjust="spacingAndGlyphs">Одноклассники</text></g>
<g id="r2d1" class="n"><rect x="488" y="194.8" width="99" height="4.4"/><text x="488.6" y="198.05" textLength="97.8" lengthAdjust="spacingAndGlyphs">можно вставить подписную форму или страницу в любой пост-ссылку</text></g>
<g id="r2d2" class="n"><rect x="488" y="199.8" width="60" height="4.4"/><text x="488.6" y="203.05" textLength="58.8" lengthAdjust="spacingAndGlyphs">приятно развиваться с помощью подписки</text></g>
<g id="r2e" class="n"><rect x="462" y="204.8" width="10" height="4.4"/><text x="462.6" y="208.05" textLength="8.8" lengthAdjust="spacingAndGlyphs">Google+</text></g>
<g id="r2f" class="n"><rect x="462" y="209.8" width="13" height="4.4"/><text x="462.6" y="213.05" textLength="11.8" lengthAdjust="spacingAndGlyphs">Instagram</text></g>
<g id="r2g" class="n"><rect x="462" y="214.8" width="11" height="4.4"/><text x="462.6" y="218.05" textLength="9.8" lengthAdjust="spacingAndGlyphs">YouTube</text></g>
<g id="r3a" class="n"><rect x="492" y="226.8" width="10" height="4.4"/><text x="492.6" y="230.05" textLength="8.8" lengthAdjust="spacingAndGlyphs">Трафик</text></g>
<g id="r3a1" class="n"><rect x="507" y="224.8" width="21" height="4.4"/><text x="507.6" y="228.05" textLength="19.8" lengthAdjust="spacingAndGlyphs">Яндекс.Метрика</text></g>
<g id="r3a2" class="n"><rect x="507" y="229.8" width="7" height="4.4"/><text x="507.6" y="233.05" textLength="5.8" lengthAdjust="spacingAndGlyphs">Гугл</text></g>
<g id="r3b" class="n"><rect x="492" y="239.8" width="15" height="4.4"/><text x="492.6" y="243.05" textLength="13.8" lengthAdjust="spacingAndGlyphs">Конверсии</text></g>
<g id="r3b1" class="n"><rect x="510" y="234.8" width="11" height="4.4"/><text x="510.6" y="238.05" textLength="9.8" lengthAdjust="spacingAndGlyphs">Заявки</text></g>
<g id="r3b2" class="n"><rect x="510" y="239.8" width="20" height="4.4"/><text x="510.6" y="243.05" textLength="18.8" lengthAdjust="spacingAndGlyphs">Регистрации</text></g>
<g id="r3c" class="n"><rect x="492" y="249.8" width="16" height="4.4"/><text x="492.6" y="253.05" textLength="14.8" lengthAdjust="spacingAndGlyphs">Монетизация</text></g>
<g id="r3c1" class="n"><rect x="510" y="244.8" width="25" height="4.4"/><text x="510.6" y="248.05" textLength="23.8" lengthAdjust="spacingAndGlyphs">Стоимость клиента</text></g>
<g id="r3c2" class="n"><rect x="510" y="249.8" width="15" height="4.4"/><text x="510.6" y="253.05" textLength="13.8" lengthAdjust="spacingAndGlyphs">Партнерка</text></g>
<g id="r4a" class="n"><rect x="502" y="265.8" width="15" height="4.4"/><text x="502.6" y="269.05" textLength="13.8" lengthAdjust="spacingAndGlyphs">Вовлечение</text></g>
<g id="r4a1" class="n"><rect x="521" y="265.8" width="12" height="4.4"/><text x="521.6" y="269.05" textLength="10.8" lengthAdjust="spacingAndGlyphs">Реклама</text></g>
<g id="r4a1a" class="n"><rect x="540" y="260.8" width="45" height="4.4"/><text x="540.6" y="264.05" textLength="43.8" lengthAdjust="spacingAndGlyphs">Клиентоориентированность</text></g>
<g id="r4a1b" class="n"><rect x="540" y="265.8" width="19" height="4.4"/><text x="540.6" y="269.05" textLength="17.8" lengthAdjust="spacingAndGlyphs">Акции, скидки</text></g>
<g id="r4a1c" class="n"><rect x="540" y="270.8" width="45" height="4.4"/><text x="540.6" y="274.05" textLength="43.8" lengthAdjust="spacingAndGlyphs">Работа в комментариях по рекламе</text></g>
<g id="r4b" class="n"><rect x="502" y="284.8" width="11" height="4.4"/><text x="502.6" y="288.05" textLength="9.8" lengthAdjust="spacingAndGlyphs">Доверие</text></g>
<g id="r4b1" class="n"><rect x="520" y="275.8" width="27" height="4.4"/><text x="520.6" y="279.05" textLength="25.8" lengthAdjust="spacingAndGlyphs">Собственные группы</text></g>
<g id="r4b2" class="n"><rect x="522" y="280.3" width="45" height="4.4"/><text x="522.6" y="283.55" textLength="43.8" lengthAdjust="spacingAndGlyphs">Работа с отзывами в комментариях</text></g>
<g id="r4b3" class="n"><rect x="520" y="284.8" width="38" height="4.4"/><text x="520.6" y="288.05" textLength="36.8" lengthAdjust="spacingAndGlyphs">Возможность пожаловаться</text></g>
<g id="r4b4" class="n"><rect x="520" y="289.8" width="48" height="4.4"/><text x="520.6" y="293.05" textLength="46.8" lengthAdjust="spacingAndGlyphs">Возможность задать вопрос за 1 клик</text></g>
<g id="r4b5" class="n"><rect x="520" y="294.8" width="30" height="4.4"/><text x="520.6" y="298.05" textLength="28.8" lengthAdjust="spacingAndGlyphs">Своевременные ответы</text></g>
<g id="r4c" class="n"><rect x="502" y="309.8" width="11" height="4.4"/><text x="502.6" y="313.05" textLength="9.8" lengthAdjust="spacingAndGlyphs">Ресурсы</text></g>
<g id="r4c1" class="n"><rect x="519" y="299.8" width="26" height="4.4"/><text x="519.6" y="303.05" textLength="24.8" lengthAdjust="spacingAndGlyphs">Контакты в описании</text></g>
<g id="r4c2" class="n"><rect x="519" y="304.8" width="23" height="4.4"/><text x="519.6" y="308.05" textLength="21.8" lengthAdjust="spacingAndGlyphs">Контакты в группе</text></g>
<g id="r4c3" class="n"><rect x="519" y="309.8" width="28" height="4.4"/><text x="519.6" y="313.05" textLength="26.8" lengthAdjust="spacingAndGlyphs">Контакты в обсуждениях</text></g>
<g id="r4c4" class="n"><rect x="519" y="314.8" width="59" height="4.4"/><text x="519.6" y="318.05" textLength="57.8" lengthAdjust="spacingAndGlyphs">Возможность задать вопрос в другом месте</text></g>
<g id="r4c5" class="n"><rect x="519" y="319.8" width="28" height="4.4"/><text x="519.6" y="323.05" textLength="26.8" lengthAdjust="spacingAndGlyphs">Менеджеры в соц. сетях</text></g>
<g id="r5a" class="n"><rect x="525" y="330.8" width="13" height="4.4"/><text x="525.6" y="334.05" textLength="11.8" lengthAdjust="spacingAndGlyphs">Конкурсы</text></g>
<g id="r5b" class="n"><rect x="525" y="335.8" width="11" height="4.4"/><text x="525.6" y="339.05" textLength="9.8" lengthAdjust="spacingAndGlyphs">Серфинг</text></g>
<g id="r5c" class="n"><rect x="525" y="340.8" width="9" height="4.4"/><text x="525.6" y="344.05" textLength="7.8" lengthAdjust="spacingAndGlyphs">Лайки</text></g>
<g id="r5d" class="n"><rect x="525" y="345.3" width="21" height="4.4"/><text x="525.6" y="348.55" textLength="19.8" lengthAdjust="spacingAndGlyphs">Мы в соц. сетях</text></g>
<g id="r5e" class="n"><rect x="525" y="349.8" width="26" height="4.4"/><text x="525.6" y="353.05" textLength="24.8" lengthAdjust="spacingAndGlyphs">Вход через соцсети</text></g>
<g id="r5f" class="n"><rect x="525" y="354.8" width="25" height="4.4"/><text x="525.6" y="358.05" textLength="23.8" lengthAdjust="spacingAndGlyphs">Социальный замок</text></g>
<g id="r5g" class="n"><rect x="525" y="359.3" width="11" height="4.4"/><text x="525.6" y="362.55" textLength="9.8" lengthAdjust="spacingAndGlyphs">Попапы</text></g>
<g id="r6a" class="n"><rect x="458" y="380.8" width="5" height="4.4"/><text x="458.5" y="384.05" textLength="4" lengthAdjust="spacingAndGlyphs">ВК</text></g>
<g id="r6a1" class="n"><rect x="470" y="369.8" width="14" height="4.4"/><text x="470.6" y="373.05" textLength="12.8" lengthAdjust="spacingAndGlyphs">Переписка</text></g>
<g id="r6a2" class="n"><rect x="468" y="375.8" width="29" height="4.4"/><text x="468.6" y="379.05" textLength="27.8" lengthAdjust="spacingAndGlyphs">Приветственный виджет</text></g>
<g id="r6a3" class="n"><rect x="468" y="380.8" width="10" height="4.4"/><text x="468.6" y="384.05" textLength="8.8" lengthAdjust="spacingAndGlyphs">Дизайн</text></g>
<g id="r6a4" class="n"><rect x="468" y="385.8" width="8" height="4.4"/><text x="468.6" y="389.05" textLength="6.8" lengthAdjust="spacingAndGlyphs">Меню</text></g>
<g id="r6a5" class="n"><rect x="468" y="390.8" width="29" height="4.4"/><text x="468.6" y="394.05" textLength="27.8" lengthAdjust="spacingAndGlyphs">Подписка на рассылку</text></g>
<g id="r6a6" class="n"><rect x="468" y="395.3" width="32" height="4.4"/><text x="468.6" y="398.55" textLength="30.8" lengthAdjust="spacingAndGlyphs">Приложения сообщества</text></g>
<g id="r6b" class="n"><rect x="458" y="400.3" width="5" height="4.4"/><text x="458.5" y="403.55" textLength="4" lengthAdjust="spacingAndGlyphs">ФБ</text></g>
<g id="r6b1" class="n"><rect x="468" y="400.3" width="27" height="4.4"/><text x="468.6" y="403.55" textLength="25.8" lengthAdjust="spacingAndGlyphs">Оптимизация постов</text></g>
<g id="r6b2" class="n"><rect x="468" y="404.8" width="24" height="4.4"/><text x="468.6" y="408.05" textLength="22.8" lengthAdjust="spacingAndGlyphs">Фейсы, подписчики</text></g>
<g id="r6c" class="n"><rect x="457" y="411.8" width="5" height="4.4"/><text x="457.5" y="415.05" textLength="4" lengthAdjust="spacingAndGlyphs">Тв</text></g>
<g id="r6c1" class="n"><rect x="468" y="409.8" width="26" height="4.4"/><text x="468.6" y="413.05" textLength="24.8" lengthAdjust="spacingAndGlyphs">Отвечайте на твиты</text></g>
<g id="r6c2" class="n"><rect x="468" y="414.8" width="12" height="4.4"/><text x="468.6" y="418.05" textLength="10.8" lengthAdjust="spacingAndGlyphs">Хэштеги</text></g>
</svg>
